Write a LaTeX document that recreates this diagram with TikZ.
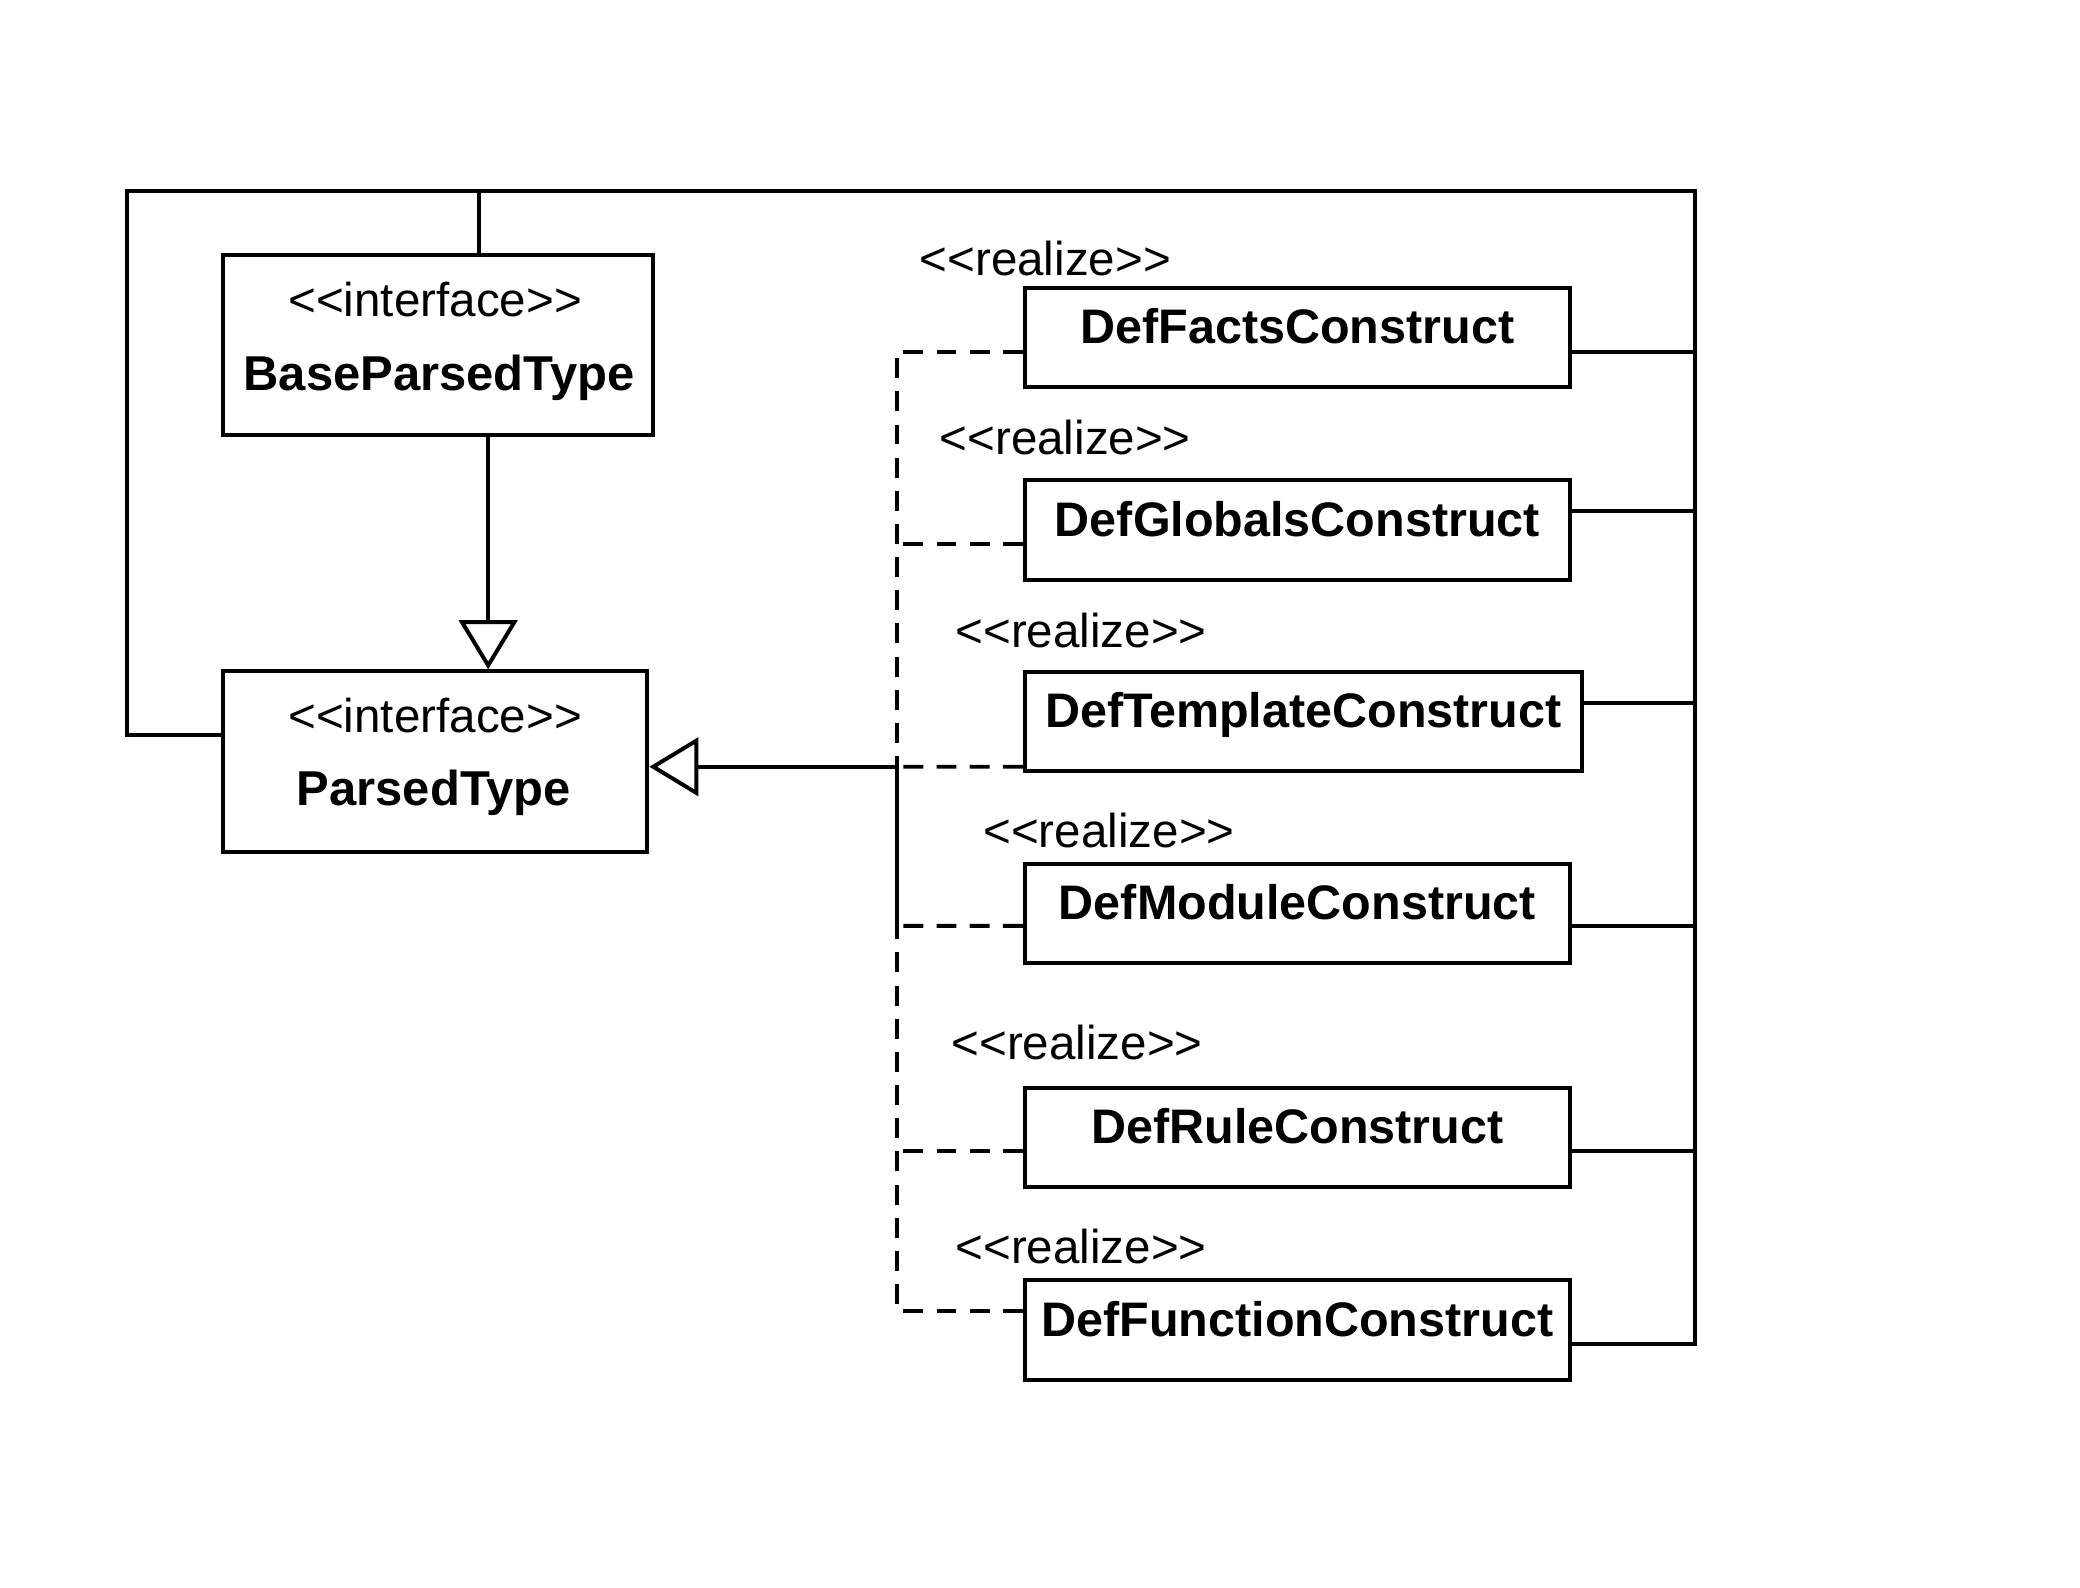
\documentclass[tikz,border=0pt]{standalone}
\usepackage{fontspec}
\setmainfont{Liberation Sans}[Ligatures=TeXOff]
\usetikzlibrary{arrows.meta}

\begin{document}
\begin{tikzpicture}[
  line width=0.85pt,
  every node/.style={font=\fontsize{10.2}{12}\selectfont},
  iface/.style={draw, rectangle, inner sep=0pt, minimum height=1.36cm},
  cls/.style={draw, rectangle, anchor=west, minimum height=0.75cm,
    text height=7pt, text depth=4.3pt, font=\fontsize{10.4}{12}\selectfont\bfseries},
  clsname/.style={font=\fontsize{10.5}{12}\selectfont\bfseries},
  gen/.style={-{Triangle[open, length=3.7mm, width=4.4mm]}},
  real/.style={dash pattern=on 1.5mm off 1mm},
]
\useasboundingbox (0,0) rectangle (15.68,-11.97);

% Interfaces
\node[iface, minimum width=3.24cm] (base) at (3.30,-2.60) {};
\node (base-st) at (3.28,-2.26) {<<interface>>};
\node[clsname] (base-nm) at (3.31,-2.85) {BaseParsedType};

\node[iface, minimum width=3.20cm] (parsed) at (3.28,-5.74) {};
\node (parsed-st) at (3.28,-5.39) {<<interface>>};
\node[clsname] (parsed-nm) at (3.27,-5.98) {ParsedType};

% Constructs
\node[cls, minimum width=4.11cm] (facts) at (7.71,-2.545) {DefFactsConstruct};
\node[cls, minimum width=4.11cm] (globals) at (7.71,-3.995) {DefGlobalsConstruct};
\node[cls, minimum width=4.20cm] (template) at (7.71,-5.44) {DefTemplateConstruct};
\node[cls, minimum width=4.11cm] (module) at (7.71,-6.885) {DefModuleConstruct};
\node[cls, minimum width=4.11cm] (rule) at (7.71,-8.575) {DefRuleConstruct};
\node[cls, minimum width=4.11cm] (function) at (7.71,-10.025) {DefFunctionConstruct};

% Stereotypes
\node (facts-st) at (7.88,-1.95) {<<realize>>};
\node (globals-st) at (8.03,-3.30) {<<realize>>};
\node (template-st) at (8.15,-4.75) {<<realize>>};
\node (module-st) at (8.36,-6.26) {<<realize>>};
\node (rule-st) at (8.12,-7.86) {<<realize>>};
\node (function-st) at (8.15,-9.40) {<<realize>>};

\coordinate (corner) at (0.96,-1.44);
\coordinate (rail) at (12.78,-1.44);
\coordinate (hub) at (6.76,-5.78);
\coordinate (join) at (6.76,-6.98);

% Outer frame
\draw ([yshift=2mm]parsed.west) -| (corner) -- (rail) |- ([yshift=-1.05mm]function.east);
\draw ([xshift=3.1mm]base.north) -- ([xshift=3.1mm]base.north |- corner);

% Right side links
\draw ([yshift=-1.05mm]facts.east) -- ([yshift=-1.05mm]facts.east -| rail);
\draw ([yshift=1.45mm]globals.east) -- ([yshift=1.45mm]globals.east -| rail);
\draw ([yshift=1.4mm]template.east) -- ([yshift=1.4mm]template.east -| rail);
\draw ([yshift=-0.95mm]module.east) -- ([yshift=-0.95mm]module.east -| rail);
\draw ([yshift=-1.05mm]rule.east) -- ([yshift=-1.05mm]rule.east -| rail);

% Generalization
\draw[gen] ([xshift=3.8mm]base.south) -- ([xshift=3.8mm]base.south |- parsed.north);

% Realization
\draw[gen] (hub) -- (hub -| parsed.east);
\draw (hub) -- (join);
\draw[real] ([yshift=-1.05mm]facts.west) -| (hub);
\draw[real] ([yshift=-1.05mm]globals.west) -- ([yshift=-1.05mm]globals.west -| hub);
\draw[real] ([yshift=-3.4mm]template.west) -- (hub);
\draw[real] ([yshift=-0.95mm]module.west) -- (join);
\draw[real] ([yshift=-1.05mm]rule.west) -- ([yshift=-1.05mm]rule.west -| join);
\draw[real] ([yshift=1.45mm]function.west) -| (join);

\end{tikzpicture}
\end{document}
